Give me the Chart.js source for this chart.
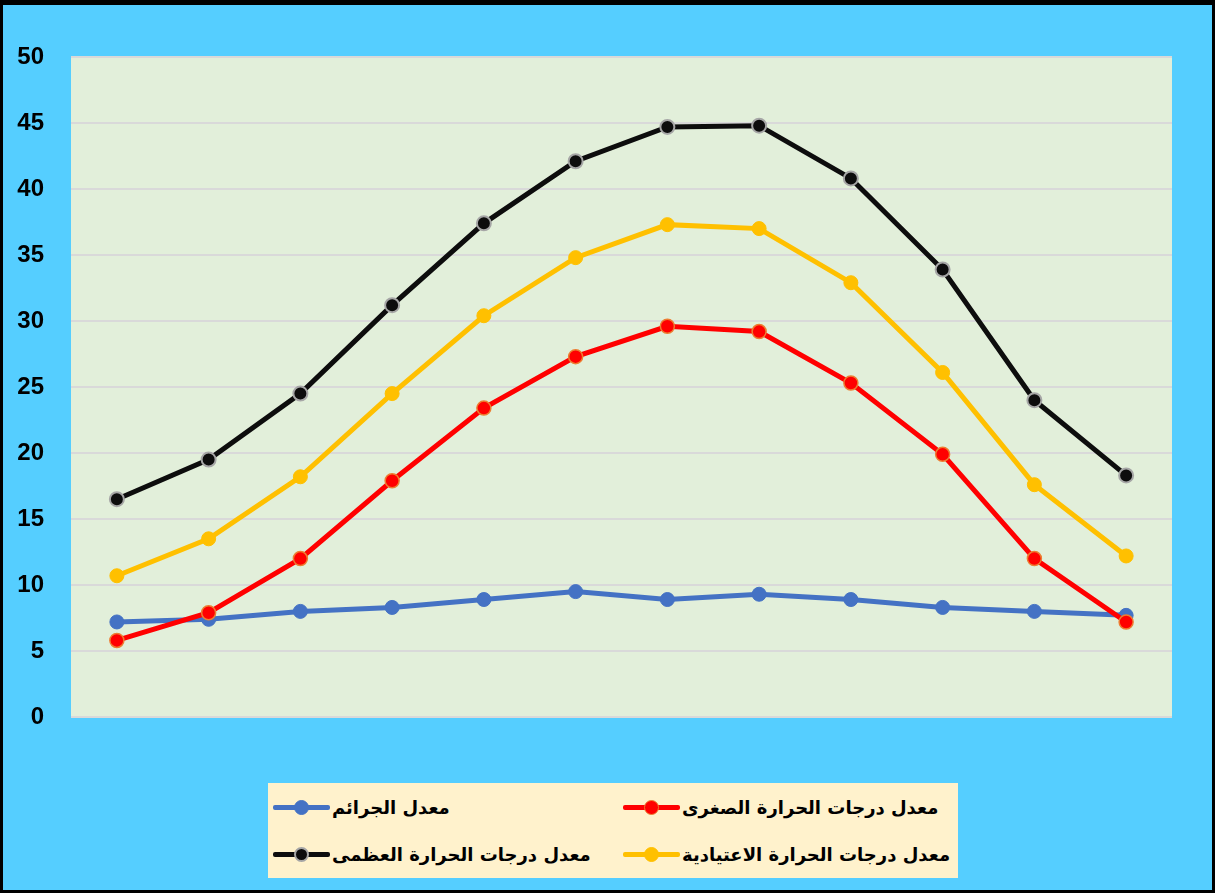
<!DOCTYPE html>
<html lang="ar">
<head>
<meta charset="utf-8">
<script src="https://cdn.jsdelivr.net/npm/chart.js@4/dist/chart.umd.min.js"></script>
<style>
  html, body { margin: 0; padding: 0; }
  body { width: 1215px; height: 893px; background: #55CEFF; position: relative; overflow: hidden; }
  #c { position: absolute; left: 0; top: 0; }
  #frame { position: absolute; left: 0; top: 0; width: 1215px; height: 893px; box-sizing: border-box;
           border: 3px solid #000; border-top-width: 5px; pointer-events: none; }
  #legend { position: absolute; left: 268px; top: 783px; width: 690px; height: 95px; background: #FFF2CC;
            display: grid; grid-template-columns: 340px 350px; grid-template-rows: 48px 47px;
            direction: rtl; box-sizing: border-box; }
  .item { direction: ltr; display: flex; align-items: center; justify-content: flex-start; padding-left: 5px; }
  .mk { position: relative; width: 57px; height: 16px; flex: none; margin-right: 2px; }
  .mk .ln { position: absolute; left: 0; right: 0; top: 5.5px; height: 5px; border-radius: 2px; }
  .mk .dt { position: absolute; left: 21px; top: 0.5px; width: 15px; height: 15px; border-radius: 50%; box-sizing: border-box; }
  .tx { direction: rtl; font: bold 18px "DejaVu Sans", sans-serif; color: #000; white-space: nowrap; }
</style>
</head>
<body>
<canvas id="c" width="1215" height="893"></canvas>
<div id="legend"></div>
<div id="frame"></div>
<script>
// ---- data ----
const months = ["1", "2", "3", "4", "5", "6", "7", "8", "9", "10", "11", "12"];
const seriesNames = [
  "معدل درجات الحرارة الصغرى",
  "معدل الجرائم",
  "معدل درجات الحرارة الاعتيادية",
  "معدل درجات الحرارة العظمى"
];
const minTemp   = [5.8, 7.9, 12.0, 17.9, 23.4, 27.3, 29.6, 29.2, 25.3, 19.9, 12.0, 7.2];
const crimes    = [7.2, 7.4, 8.0, 8.3, 8.9, 9.5, 8.9, 9.3, 8.9, 8.3, 8.0, 7.7];
const avgTemp   = [10.7, 13.5, 18.2, 24.5, 30.4, 34.8, 37.3, 37.0, 32.9, 26.1, 17.6, 12.2];
const maxTemp   = [16.5, 19.5, 24.5, 31.2, 37.4, 42.1, 44.7, 44.8, 40.8, 33.9, 24.0, 18.3];
const yTicks    = [0, 5, 10, 15, 20, 25, 30, 35, 40, 45, 50];

const plotBg = {
  id: 'plotBg',
  beforeDraw(chart) {
    const { ctx, chartArea: a } = chart;
    ctx.save();
    ctx.fillStyle = '#E2EFDA';
    ctx.fillRect(a.left, a.top, a.right - a.left, a.bottom - a.top);
    ctx.restore();
  }
};

function ds(label, data, color, border, bw) {
  return {
    label, data,
    borderColor: color, backgroundColor: color,
    borderWidth: 5, tension: 0,
    pointRadius: 7, pointHoverRadius: 7,
    pointBackgroundColor: color, pointBorderColor: border, pointBorderWidth: bw
  };
}

const chart = new Chart(document.getElementById('c'), {
  type: 'line',
  data: {
    labels: months,
    datasets: [
      ds(seriesNames[0], minTemp, '#FF0000', '#ED7D31', 1.5),
      ds(seriesNames[1], crimes, '#4472C4', '#4472C4', 1),
      ds(seriesNames[2], avgTemp, '#FFC000', '#FFC000', 1),
      ds(seriesNames[3], maxTemp, '#0D0D0D', '#A6A6A6', 2)
    ]
  },
  options: {
    responsive: false,
    animation: false,
    devicePixelRatio: 1,
    layout: { padding: { left: 11, right: 43, top: 57, bottom: 176 } },
    plugins: { legend: { display: false }, tooltip: { enabled: false } },
    scales: {
      x: { display: false, offset: true },
      y: {
        min: yTicks[0], max: yTicks[yTicks.length - 1],
        afterFit(scale) { scale.width = 60; },
        afterBuildTicks(scale) { scale.ticks = yTicks.map(v => ({ value: v })); },
        border: { display: false },
        grid: { color: '#D9D9D9', lineWidth: 2, drawTicks: false },
        ticks: { padding: 27, color: '#000', font: { family: 'Liberation Sans', size: 24, weight: 'bold' } }
      }
    }
  },
  plugins: [plotBg]
});

// HTML legend built from the chart's datasets
const legendEl = document.getElementById('legend');
chart.data.datasets.forEach(d => {
  const item = document.createElement('div');
  item.className = 'item';
  const mk = document.createElement('div');
  mk.className = 'mk';
  const ln = document.createElement('div');
  ln.className = 'ln';
  ln.style.background = d.borderColor;
  const dt = document.createElement('div');
  dt.className = 'dt';
  dt.style.background = d.pointBackgroundColor;
  dt.style.border = d.pointBorderWidth + 'px solid ' + d.pointBorderColor;
  mk.appendChild(ln); mk.appendChild(dt);
  const tx = document.createElement('span');
  tx.className = 'tx';
  tx.textContent = d.label;
  item.appendChild(mk); item.appendChild(tx);
  legendEl.appendChild(item);
});
</script>
</body>
</html>
